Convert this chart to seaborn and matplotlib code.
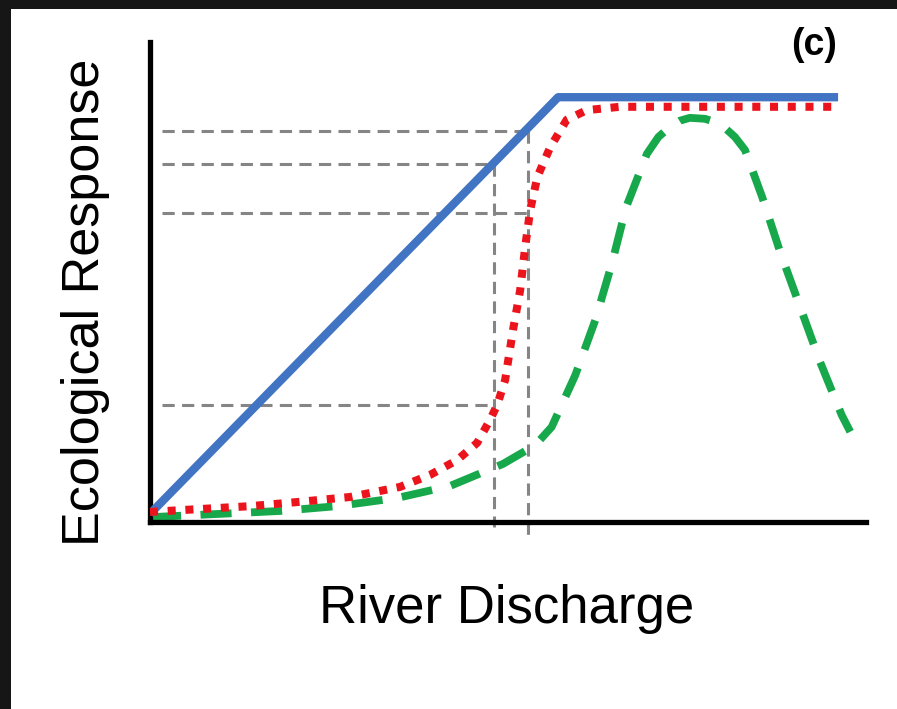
import seaborn as sns
import matplotlib.pyplot as plt
import matplotlib.patches as patches
import pandas as pd

# curves (arbitrary units, x: 0-10, y: 0-10)
linearX = [0, 5.70, 9.61]
linearY = [0.17, 8.85, 8.85]

thresholdX = [0, 0.70, 1.40, 2.09, 2.79, 3.49, 3.91, 4.29, 4.57, 4.75, 4.85, 4.96,
              5.07, 5.17, 5.24, 5.31, 5.41, 5.59, 5.82, 6.10, 6.56, 9.54]
thresholdY = [0.21, 0.27, 0.33, 0.42, 0.52, 0.73, 0.98, 1.29, 1.65, 2.13, 2.44, 2.96,
              4.00, 4.83, 5.73, 6.50, 7.19, 7.81, 8.38, 8.58, 8.65, 8.65]

peakX = [0, 0.98, 1.82, 2.61, 3.45, 4.19, 4.93, 5.38, 5.61, 5.94, 6.22, 6.45, 6.65,
         6.94, 7.10, 7.26, 7.40, 7.54, 7.75, 7.90, 8.03, 8.17, 8.31, 8.55, 8.80, 9.08,
         9.36, 9.66, 9.78]
peakY = [0.10, 0.17, 0.23, 0.33, 0.50, 0.75, 1.21, 1.60, 1.98, 3.06, 4.21, 5.38, 6.56,
         7.67, 8.02, 8.23, 8.36, 8.42, 8.40, 8.33, 8.21, 8.02, 7.75, 6.77, 5.63, 4.48,
         3.33, 2.23, 1.88]

# gray guide lines
guideLevels = [8.15, 7.46, 6.44, 2.44]
guideEnds = [5.28, 4.80, 5.28, 4.80]
guideStart = 0.17
dropX = [4.80, 5.28]
dropTop = [7.46, 8.15]
dropBottom = [-0.1, -0.37]

sns.set_theme(style="white")
plt.rcParams['font.family'] = ['Liberation Sans', 'DejaVu Sans']

fig = plt.figure(figsize=(8.97, 7.09), dpi=100)
fig.patch.set_facecolor('#161616')
# white page inside the dark frame
fig.patches.append(patches.Rectangle((11/897, 0), 1, 1 - 9/709, transform=fig.transFigure,
                                     facecolor='white', edgecolor='none', zorder=-5))

ax = fig.add_axes([150/897, 1 - 522/709, 716/897, 480/709])
ax.set_zorder(2)
ax.set_facecolor('none')
ax.set_xlim(0, 10)
ax.set_ylim(0, 10)

grey = '#858585'
for lev, end in zip(guideLevels, guideEnds):
    ax.plot([guideStart, end], [lev, lev], color=grey, lw=2.2, linestyle=(0, (4, 2.4)), zorder=1)
for x, top, bot in zip(dropX, dropTop, dropBottom):
    ax.plot([x, x], [top, bot], color=grey, lw=2.2, linestyle=(0, (4, 2.4)), zorder=1, clip_on=False)

sns.lineplot(data=pd.DataFrame({'x': peakX, 'y': peakY}), x='x', y='y', ax=ax,
             color='#17a84b', lw=5.6, linestyle=(0, (4.0, 2.5)), zorder=2)
sns.lineplot(data=pd.DataFrame({'x': linearX, 'y': linearY}), x='x', y='y', ax=ax,
             color='#4174c2', lw=6, zorder=3, solid_capstyle='butt')
sns.lineplot(data=pd.DataFrame({'x': thresholdX, 'y': thresholdY}), x='x', y='y', ax=ax,
             color='#ec141c', lw=5.8, linestyle=(0, (1, 1.2)), zorder=4)

sns.despine(ax=ax)
for side in ['left', 'bottom']:
    ax.spines[side].set_linewidth(3.8)
    ax.spines[side].set_color('black')
    ax.spines[side].set_capstyle('projecting')
ax.set_xticks([])
ax.set_yticks([])
ax.set_xlabel('')
ax.set_ylabel('')

fig.text(507/897, 1 - 623/709, 'River Discharge', fontsize=38, ha='center', va='baseline', color='black')
fig.text(86/897, 1 - 302/709, 'Ecological Response', fontsize=37.5, rotation=90,
         ha='center', va='center', color='black')
fig.text(814/897, 1 - 45/709, '(c)', fontsize=27, fontweight='bold', ha='center', va='center', color='black')

fig.savefig('out.png', dpi=100, facecolor=fig.get_facecolor())
plt.close()
